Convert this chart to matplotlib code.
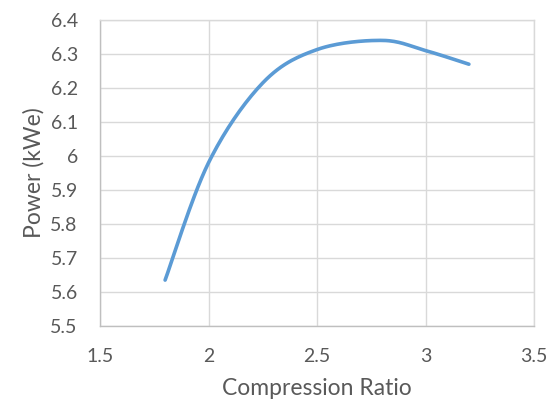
import matplotlib
matplotlib.use("Agg")
import matplotlib.pyplot as plt
import numpy as np

# data
ratio = [1.8, 2.0, 2.25, 2.5, 2.8, 3.0, 3.2]
power = [5.635, 5.98, 6.215, 6.313, 6.34, 6.31, 6.27]

xticks = [1.5, 2, 2.5, 3, 3.5]
xticklabels = ["1.5", "2", "2.5", "3", "3.5"]
yticks = [5.5, 5.6, 5.7, 5.8, 5.9, 6.0, 6.1, 6.2, 6.3, 6.4]
yticklabels = ["5.5", "5.6", "5.7", "5.8", "5.9", "6", "6.1", "6.2", "6.3", "6.4"]


def smooth(xs, ys, n=30):
    # excel-ish smoothed line: cubic bezier with catmull-rom control points
    xs = np.asarray(xs, float)
    ys = np.asarray(ys, float)
    px = np.concatenate([[xs[0]], xs, [xs[-1]]])
    py = np.concatenate([[ys[0]], ys, [ys[-1]]])
    outx, outy = [], []
    t = np.linspace(0, 1, n)
    for i in range(1, len(px) - 2):
        p0 = np.array([px[i], py[i]])
        p3 = np.array([px[i + 1], py[i + 1]])
        p1 = p0 + (np.array([px[i + 1], py[i + 1]]) - np.array([px[i - 1], py[i - 1]])) / 6
        p2 = p3 - (np.array([px[i + 2], py[i + 2]]) - np.array([px[i], py[i]])) / 6
        b = ((1 - t) ** 3)[:, None] * p0 + (3 * (1 - t) ** 2 * t)[:, None] * p1 \
            + (3 * (1 - t) * t ** 2)[:, None] * p2 + (t ** 3)[:, None] * p3
        outx.extend(b[:, 0])
        outy.extend(b[:, 1])
    return outx, outy


plt.rcParams['font.family'] = ['Lato', 'DejaVu Sans']

fig = plt.figure(figsize=(5.58, 4.11), dpi=100)
ax = fig.add_axes([100 / 558, 85 / 411, 434 / 558, 306 / 411])

sx, sy = smooth(ratio, power)
ax.plot(sx, sy, color="#5B9BD5", lw=2.6, solid_capstyle="round", zorder=3)

ax.set_xlim(1.5, 3.5)
ax.set_ylim(5.5, 6.4)
ax.set_xticks(xticks)
ax.set_xticklabels(xticklabels)
ax.set_yticks(yticks)
ax.set_yticklabels(yticklabels)
ax.grid(True, color="#D9D9D9", lw=1.0)
ax.set_axisbelow(True)

for s in ["top", "right"]:
    ax.spines[s].set_color("#D9D9D9")
for s in ["left", "bottom"]:
    ax.spines[s].set_color("#BFBFBF")
for s in ax.spines.values():
    s.set_linewidth(1.0)

ax.tick_params(length=0, labelsize=14, colors="#595959")
ax.tick_params(axis="y", pad=16)
ax.tick_params(axis="x", pad=16)
ax.set_xlabel("Compression Ratio", fontsize=16.5, color="#595959", labelpad=9)
ax.set_ylabel("Power (kWe)", fontsize=16.5, color="#595959", labelpad=4)

fig.savefig("out.png", dpi=100)
